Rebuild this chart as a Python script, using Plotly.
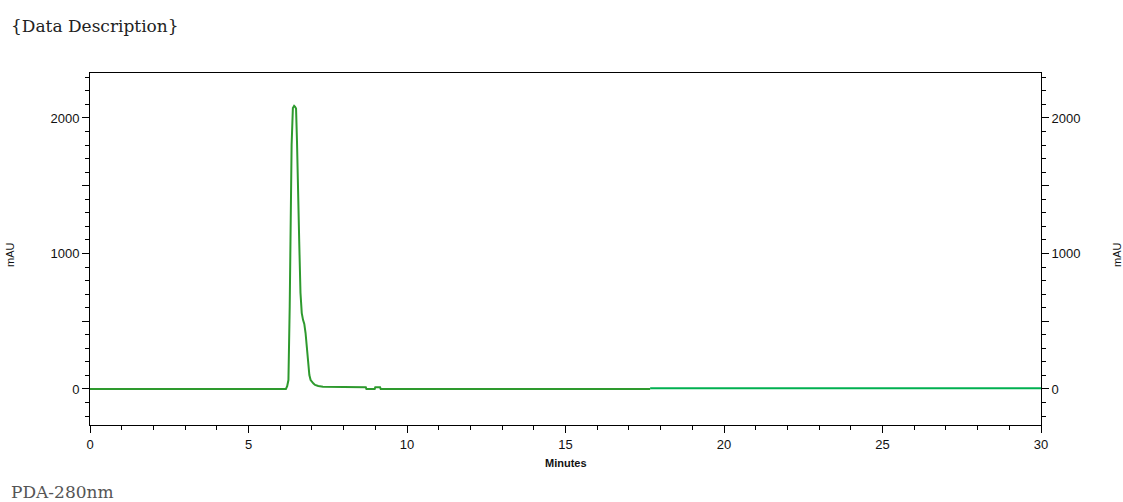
import plotly.graph_objects as go

# Chromatogram trace (PDA-280nm), minutes vs mAU
time_a = [0, 6.18, 6.22, 6.26, 6.30, 6.33, 6.36, 6.40, 6.44, 6.47, 6.50, 6.53,
          6.56, 6.60, 6.64, 6.68, 6.72, 6.76, 6.80, 6.84, 6.88, 6.92, 6.96, 7.00,
          7.05, 7.10, 7.20, 7.35, 7.60, 8.00, 8.70, 8.72, 8.98, 9.00, 9.15, 9.17,
          12.0, 17.67]
mau_a = [0, 0, 20, 66, 607, 1400, 1800, 2074, 2090, 2083, 2070, 1825,
         1400, 1087, 708, 560, 510, 480, 413, 288, 165, 103, 66, 50,
         40, 30, 22, 17, 15, 14, 12, 0, 0, 12, 12, 0,
         0, 0]
time_b = [17.67, 30]
mau_b = [6, 6]

x_ticks = [0, 5, 10, 15, 20, 25, 30]
y_tickvals = [0, 500, 1000, 1500, 2000]
y_ticktext = ["0", "", "1000", "", "2000"]

X_RANGE = [0, 30]
Y_RANGE = [-266, 2332]

tick_font = dict(family="Liberation Sans Narrow, Arial Narrow, Liberation Sans, Arial", size=13, color="#111")
serif = "DejaVu Serif, Liberation Serif, serif"

fig = go.Figure()
fig.add_trace(go.Scatter(x=time_a, y=mau_a, mode="lines",
                         line=dict(color="#2e9a2e", width=2), showlegend=False))
fig.add_trace(go.Scatter(x=time_b, y=mau_b, mode="lines",
                         line=dict(color="#00b050", width=2), showlegend=False))
# invisible trace to activate right axis
fig.add_trace(go.Scatter(x=[0], y=[0], yaxis="y2", mode="lines",
                         line=dict(width=0), showlegend=False, hoverinfo="skip"))

common_y = dict(range=Y_RANGE, tickmode="array", tickvals=y_tickvals, ticktext=y_ticktext,
                ticks="outside", ticklen=7, tickwidth=1, tickcolor="#000",
                showgrid=False, zeroline=False, showline=True, linecolor="#000", linewidth=1,
                tickfont=tick_font,
                minor=dict(dtick=100, tick0=0, ticks="outside", ticklen=4, tickcolor="#000", showgrid=False))

fig.update_layout(
    width=1123, height=502,
    margin=dict(l=90, r=82, t=73, b=77),
    paper_bgcolor="white", plot_bgcolor="white",
    xaxis=dict(range=X_RANGE, tickmode="array", tickvals=x_ticks,
               ticks="outside", ticklen=7, tickwidth=1, tickcolor="#000",
               showgrid=False, zeroline=False, showline=True, linecolor="#000", linewidth=1,
               mirror=True, tickfont=tick_font,
               minor=dict(dtick=1, tick0=0, ticks="outside", ticklen=4, tickcolor="#000", showgrid=False)),
    yaxis=dict(**common_y),
    yaxis2=dict(**common_y, overlaying="y", side="right", anchor="x"),
    annotations=[
        dict(text="{Data Description}", xref="paper", yref="paper",
             x=-81 / 951, y=(502 - 77 - 26) / 352, xanchor="left", yanchor="middle", showarrow=False,
             font=dict(family=serif, size=17, color="#222")),
        dict(text="PDA-280nm", xref="paper", yref="paper",
             x=-81 / 951, y=(502 - 77 - 492) / 352, xanchor="left", yanchor="middle", showarrow=False,
             font=dict(family=serif, size=17, color="#555")),
        dict(text="<b>Minutes</b>", xref="paper", yref="paper",
             x=0.5, y=(502 - 77 - 463) / 352, xanchor="center", yanchor="middle", showarrow=False,
             font=dict(family="Liberation Sans Narrow, Arial Narrow, Liberation Sans, Arial", size=11, color="#111")),
        dict(text="mAU", xref="paper", yref="paper", textangle=-90,
             x=(10 - 90) / 951, y=(425 - 255) / 352, xanchor="center", yanchor="middle", showarrow=False,
             font=dict(family="Liberation Sans Narrow, Arial Narrow, Liberation Sans, Arial", size=11, color="#111")),
        dict(text="mAU", xref="paper", yref="paper", textangle=-90,
             x=(1117 - 90) / 951, y=(425 - 255) / 352, xanchor="center", yanchor="middle", showarrow=False,
             font=dict(family="Liberation Sans Narrow, Arial Narrow, Liberation Sans, Arial", size=11, color="#111")),
    ],
)

fig.write_html("out.html")
